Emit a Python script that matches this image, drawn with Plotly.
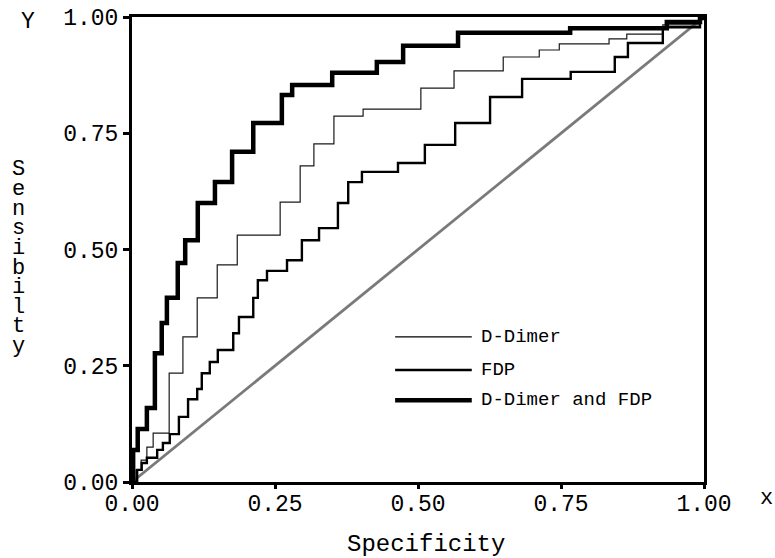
import plotly.graph_objects as go

# ---- data ----
x_ticks = [0.0, 0.25, 0.5, 0.75, 1.0]
x_tick_labels = ["0.00", "0.25", "0.50", "0.75", "1.00"]
y_ticks = [0.0, 0.25, 0.5, 0.75, 1.0]
y_tick_labels = ["0.00", "0.25", "0.50", "0.75", "1.00"]

series_names = ["D-Dimer", "FDP", "D-Dimer and FDP"]

ddimer_x = [0.0, 0.007, 0.016, 0.026, 0.037, 0.065, 0.089, 0.114, 0.149, 0.184, 0.259,
            0.294, 0.318, 0.353, 0.404, 0.505, 0.563, 0.649, 0.712, 0.747, 0.834,
            0.865, 0.928, 0.993, 1.0]
ddimer_y = [0.0, 0.026, 0.047, 0.075, 0.105, 0.234, 0.312, 0.396, 0.467, 0.531, 0.602,
            0.680, 0.727, 0.787, 0.802, 0.847, 0.884, 0.914, 0.929, 0.942, 0.953,
            0.963, 0.983, 0.998, 1.0]

fdp_x = [0.0, 0.009, 0.017, 0.026, 0.044, 0.054, 0.066, 0.082, 0.098, 0.114, 0.122,
         0.136, 0.150, 0.177, 0.187, 0.212, 0.220, 0.236, 0.271, 0.297, 0.327,
         0.360, 0.378, 0.402, 0.465, 0.512, 0.565, 0.626, 0.682, 0.767, 0.844,
         0.867, 0.928, 0.993, 1.0]
fdp_y = [0.0, 0.026, 0.041, 0.052, 0.069, 0.084, 0.103, 0.140, 0.178, 0.200, 0.234,
         0.258, 0.284, 0.320, 0.355, 0.396, 0.434, 0.454, 0.477, 0.520, 0.546,
         0.600, 0.645, 0.667, 0.686, 0.725, 0.772, 0.828, 0.867, 0.882, 0.914,
         0.944, 0.978, 0.998, 1.0]

combo_x = [0.0, 0.002, 0.010, 0.026, 0.040, 0.052, 0.061, 0.080, 0.093, 0.115, 0.145,
           0.175, 0.212, 0.262, 0.280, 0.350, 0.428, 0.474, 0.570, 0.766, 0.935,
           0.993, 1.0]
combo_y = [0.0, 0.069, 0.114, 0.159, 0.277, 0.342, 0.396, 0.471, 0.520, 0.600, 0.645,
           0.710, 0.772, 0.832, 0.854, 0.880, 0.903, 0.938, 0.966, 0.976, 0.989,
           0.998, 1.0]

ref_x = [0.0, 1.0]
ref_y = [0.0, 1.0]

y_title = "Sensibilty"

FONT = "Liberation Mono"

fig = go.Figure()

fig.add_trace(go.Scatter(x=ref_x, y=ref_y, mode="lines", showlegend=False,
                         line=dict(color="#7a7a7a", width=2.8), hoverinfo="skip"))
fig.add_trace(go.Scatter(x=ddimer_x, y=ddimer_y, mode="lines", name=series_names[0],
                         line=dict(color="#1a1a1a", width=1.2, shape="hv"), showlegend=False))
fig.add_trace(go.Scatter(x=fdp_x, y=fdp_y, mode="lines", name=series_names[1],
                         line=dict(color="#000000", width=2.4, shape="hv"), showlegend=False))
fig.add_trace(go.Scatter(x=combo_x, y=combo_y, mode="lines", name=series_names[2],
                         line=dict(color="#000000", width=4.5, shape="hv"), showlegend=False))

# legend drawn manually (long line samples as in the reference)
legend_widths = [1.2, 2.4, 4.5]
legend_ys = [0.312, 0.241, 0.176]
shapes = []
annotations = []
for name, w, ly in zip(series_names, legend_widths, legend_ys):
    shapes.append(dict(type="line", xref="paper", yref="paper", x0=0.460, x1=0.594,
                       y0=ly, y1=ly, line=dict(color="black", width=w)))
    annotations.append(dict(xref="paper", yref="paper", x=0.606, y=ly, text=name,
                            showarrow=False, xanchor="left", yanchor="middle",
                            font=dict(family=FONT, size=19, color="black")))

annotations += [
    dict(xref="paper", yref="paper", x=-0.182, y=0.989, text="Y", showarrow=False,
         xanchor="center", yanchor="middle", font=dict(family=FONT, size=23, color="black")),
    dict(xref="paper", yref="paper", x=1.110, y=-0.036, text="x", showarrow=False,
         xanchor="center", yanchor="middle", font=dict(family=FONT, size=22, color="black")),
    dict(xref="paper", yref="paper", x=0.514, y=-0.135, text="Specificity", showarrow=False,
         xanchor="center", yanchor="middle", font=dict(family=FONT, size=24, color="black")),
]

# vertical stacked y title, one letter per row
for i, ch in enumerate(y_title):
    py = 170 + i * 19.6
    annotations.append(dict(xref="paper", yref="paper", x=-0.198, y=(482 - py) / 465,
                            text=ch, showarrow=False, xanchor="center", yanchor="middle",
                            font=dict(family=FONT, size=22, color="black")))

axis_common = dict(range=[0, 1], showgrid=False, zeroline=False, showline=True,
                   linecolor="black", linewidth=3, mirror=True, ticks="outside",
                   tickwidth=3, tickcolor="black", automargin=False,
                   ticklabeloverflow="allow",
                   tickfont=dict(family=FONT, size=23, color="black"))

fig.update_xaxes(tickvals=x_ticks, ticktext=x_tick_labels, ticklen=4,
                 ticklabelstandoff=-6, **axis_common)
fig.update_yaxes(tickvals=y_ticks, ticktext=y_tick_labels, ticklen=6, **axis_common)

fig.update_layout(width=775, height=558,
                  margin=dict(l=132, r=71, t=17, b=76, autoexpand=False),
                  plot_bgcolor="white", paper_bgcolor="white",
                  shapes=shapes, annotations=annotations, showlegend=False)

# remove the browser's default 8px page margin so the figure fills the window
fig.write_html("out.html", config={"displayModeBar": False},
               post_script="document.body.style.margin='0';"
                           "document.body.style.overflow='hidden';")
